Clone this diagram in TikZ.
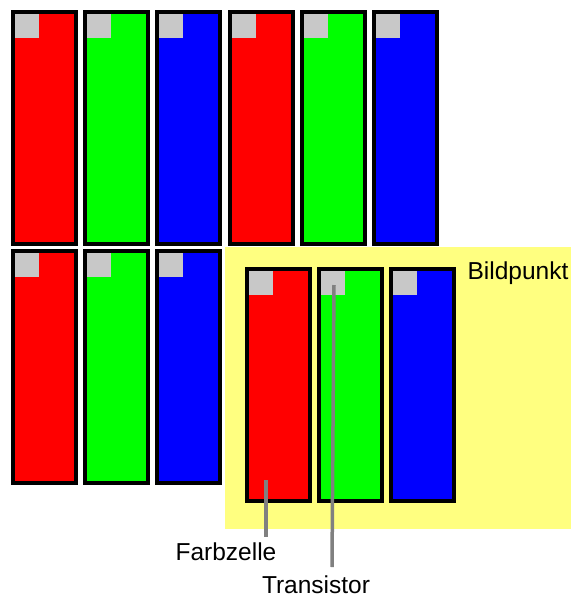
\documentclass[tikz,border=0pt]{standalone}
\usepackage{fontspec}
\setmainfont{Liberation Sans}
\usetikzlibrary{calc}
\definecolor{cred}{RGB}{255,0,0}
\definecolor{cgreen}{RGB}{0,255,0}
\definecolor{cblue}{RGB}{0,0,255}
\definecolor{cgrey}{RGB}{200,200,200}
\definecolor{cyel}{RGB}{255,255,128}
\definecolor{cline}{RGB}{128,128,128}
\begin{document}
\begin{tikzpicture}[x=1pt,y=-1pt,
  cell/.style={draw=black,line width=4pt,rectangle,inner sep=0pt,outer sep=0pt,
    minimum width=63pt,minimum height=232pt,anchor=north west},
  tr/.style={fill=cgrey,rectangle,inner sep=0pt,outer sep=0pt,
    minimum width=24pt,minimum height=24pt,anchor=north west},
  lead/.style={draw=cline,line width=3.5pt},
  lbl/.style={font=\fontsize{24.5}{28}\selectfont,inner sep=0pt,anchor=base}]
\useasboundingbox (0,0) rectangle (571,598);
% Bildpunkt background
\fill[cyel] (225,247) rectangle (571,529);
% top row
\foreach \i/\c in {0/cred,1/cgreen,2/cblue,3/cred,4/cgreen,5/cblue}{
  \node[cell,fill=\c] (t\i) at ({13+72.2*\i},11.5) {};
  \node[tr] (tt\i) at ([xshift=2pt,yshift=-2pt]t\i.north west) {};
}
% second row
\foreach \i/\c in {0/cred,1/cgreen,2/cblue}{
  \node[cell,fill=\c] (b\i) at ({13+72.2*\i},251) {};
  \node[tr] (bt\i) at ([xshift=2pt,yshift=-2pt]b\i.north west) {};
}
% Bildpunkt cells
\foreach \i/\c in {0/cred,1/cgreen,2/cblue}{
  \node[cell,fill=\c] (p\i) at ({247+72*\i},269) {};
  \node[tr] (pt\i) at ([xshift=2pt,yshift=-2pt]p\i.north west) {};
}
% labels
\node[lbl] (bild) at (518,279) {Bildpunkt};
\node[lbl] (farb) at (226,560) {Farbzelle};
\node[lbl] (trans) at (316,593.5) {Transistor};
% leaders
\coordinate (fz) at (266,480);
\coordinate (fzend) at (266,537);
\coordinate (trend) at (332,567);
\draw[lead] (fz) -- (fzend);
\draw[lead] ([xshift=1pt,yshift=-2pt]pt1.center) -- (trend);
\end{tikzpicture}
\end{document}
